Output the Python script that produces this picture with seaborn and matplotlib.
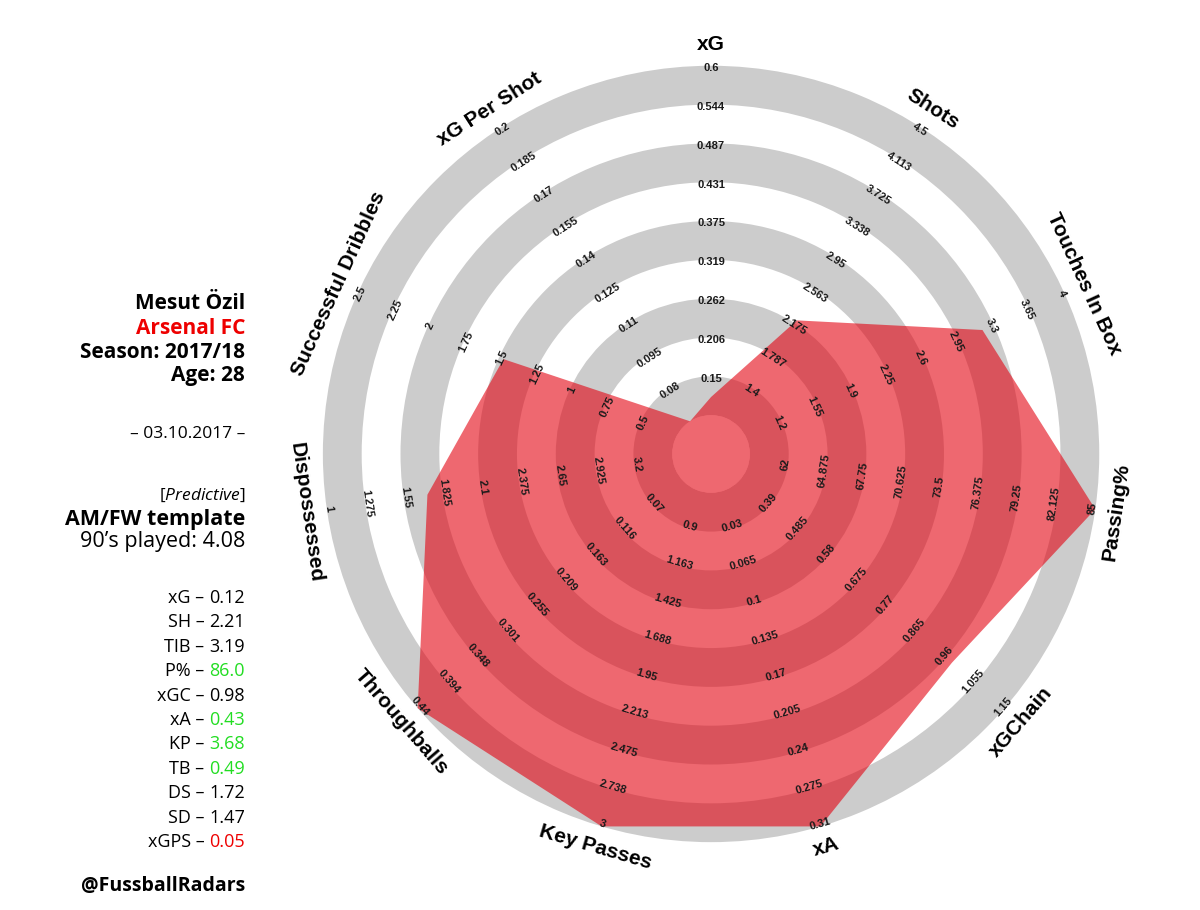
import numpy as np
import matplotlib as mpl; mpl.use("Agg")
import matplotlib.pyplot as plt
import seaborn as sns

# ---- datos del radar ----
AXES = ["xG", "Shots", "Touches In Box", "Passing%", "xGChain", "xA",
        "Key Passes", "Throughballs", "Dispossessed", "Successful Dribbles", "xG Per Shot"]
T_XG = ["0.15", "0.206", "0.262", "0.319", "0.375", "0.431", "0.487", "0.544", "0.6"]
T_SH = ["1.4", "1.787", "2.175", "2.563", "2.95", "3.338", "3.725", "4.113", "4.5"]
T_TIB = ["1.2", "1.55", "1.9", "2.25", "2.6", "2.95", "3.3", "3.65", "4"]
T_PP = ["62", "64.875", "67.75", "70.625", "73.5", "76.375", "79.25", "82.125", "85"]
T_XGC = ["0.39", "0.485", "0.58", "0.675", "0.77", "0.865", "0.96", "1.055", "1.15"]
T_XA = ["0.03", "0.065", "0.1", "0.135", "0.17", "0.205", "0.24", "0.275", "0.31"]
T_KP = ["0.9", "1.163", "1.425", "1.688", "1.95", "2.213", "2.475", "2.738", "3"]
T_TB = ["0.07", "0.116", "0.163", "0.209", "0.255", "0.301", "0.348", "0.394", "0.44"]
T_DS = ["3.2", "2.925", "2.65", "2.375", "2.1", "1.825", "1.55", "1.275", "1"]
T_SD = ["0.5", "0.75", "1", "1.25", "1.5", "1.75", "2", "2.25", "2.5"]
T_XGPS = ["0.08", "0.095", "0.11", "0.125", "0.14", "0.155", "0.17", "0.185", "0.2"]
TICKS = [T_XG, T_SH, T_TIB, T_PP, T_XGC, T_XA, T_KP, T_TB, T_DS, T_SD, T_XGPS]
VALUES = [0.12, 2.21, 3.19, 86.0, 0.98, 0.43, 3.68, 0.49, 1.72, 1.47, 0.05]

# ---- panel izquierdo ----
STAT_LABELS = ["xG", "SH", "TIB", "P%", "xGC", "xA", "KP", "TB", "DS", "SD", "xGPS"]
STAT_DEC = [2, 2, 2, 1, 2, 2, 2, 2, 2, 2, 2]
GREEN, RED_TXT = "#22dd22", "#ee0000"
STAT_COLORS = ["black", "black", "black", GREEN, "black", GREEN, GREEN, GREEN,
               "black", "black", RED_TXT]

GRAY = "#cccccc"
RED, ALPHA = np.array([227, 3, 17]) / 255, 0.6
LEFT_FONT = ["Open Sans", "DejaVu Sans"]

sns.set_theme(style="white")
plt.rcParams["font.family"] = ["Liberation Sans", "DejaVu Sans"]
plt.rcParams.update({"text.color": "black",
                     "mathtext.fontset": "custom", "mathtext.rm": "Open Sans",
                     "mathtext.it": "Open Sans:italic"})

fig = plt.figure(figsize=(12, 9.1), dpi=100)
ax = fig.add_axes([0.2367, 0.0319, 0.7117, 0.9385], projection="polar")
ax.set_theta_zero_location("N"); ax.set_theta_direction(-1)
ax.set_ylim(0, 11); ax.axis("off")

n = len(AXES)
theta = np.arange(n) * 2 * np.pi / n

# anillos grises alternos
for k in range(1, 10, 2):
    ax.bar(0, 1, width=2 * np.pi, bottom=k, align="edge", color=GRAY, linewidth=0, zorder=1)

# poligono: 1a marca en r=2, ultima en r=10, recortado a [1, 10]
r = []
for v, t in zip(VALUES, TICKS):
    lo, hi = float(t[0]), float(t[-1])
    r.append(np.clip(2 + 8 * (v - lo) / (hi - lo), 1, 10))
r = np.array(r)
ax.fill(np.r_[theta, theta[0]], np.r_[r, r[0]], color=RED, alpha=ALPHA, lw=0, zorder=2)
disc = ALPHA * RED + (1 - ALPHA) * np.ones(3)
ax.bar(0, 1, width=2 * np.pi, bottom=0, align="edge", color=disc, linewidth=0, zorder=3)

def rot(deg):
    return 180 - deg if 90 < deg < 270 else -deg

for th, name, ticks in zip(theta, AXES, TICKS):
    deg = np.degrees(th)
    for k, lab in enumerate(ticks, start=2):
        ax.text(th, k - 0.06, lab, rotation=rot(deg), rotation_mode="anchor",
                ha="center", va="center", fontsize=8, fontweight="bold",
                color="#1a1a1a", zorder=5)
    ax.text(th, 10.55, name, rotation=rot(deg), rotation_mode="anchor",
            ha="center", va="center", fontsize=15, fontweight="bold", color="black", zorder=5)

XR = 245 / 1200
def fy(px): return 1 - px / 910

fig.text(XR, fy(304), "Mesut Özil", ha="right", va="center", fontsize=15, fontweight="bold", family=LEFT_FONT)
fig.text(XR, fy(328), "Arsenal FC", ha="right", va="center", fontsize=15, fontweight="bold", color=RED_TXT, family=LEFT_FONT)
fig.text(XR, fy(352), "Season: 2017/18", ha="right", va="center", fontsize=15, fontweight="bold", family=LEFT_FONT)
fig.text(XR, fy(376), "Age: 28", ha="right", va="center", fontsize=15, fontweight="bold", family=LEFT_FONT)
fig.text(XR, fy(434), "– 03.10.2017 –", ha="right", va="center", fontsize=12.5, family=LEFT_FONT)
fig.text(XR, fy(495), r"[$\it{Predictive}$]", ha="right", va="center", fontsize=12.5, family=LEFT_FONT)
fig.text(XR, fy(519), "AM/FW template", ha="right", va="center", fontsize=15.5, fontweight="bold", family=LEFT_FONT)
fig.text(XR, fy(542), "90’s played: 4.08", ha="right", va="center", fontsize=15.5, family=LEFT_FONT)

for i, (lab, v, d, c) in enumerate(zip(STAT_LABELS, VALUES, STAT_DEC, STAT_COLORS)):
    t = fig.text(XR, fy(598 + 24.4 * i), f"{v:.{d}f}", ha="right", va="center",
                 fontsize=13, color=c, family=LEFT_FONT)
    ax.annotate(f"{lab} –", xy=(0, 0.5), xycoords=t, xytext=(-3.5, 0), textcoords="offset points",
                ha="right", va="center", fontsize=13, color="black", family=LEFT_FONT,
                annotation_clip=False)

fig.text(XR, fy(886), "@FussballRadars", ha="right", va="center", fontsize=14, fontweight="bold", family=LEFT_FONT)

fig.savefig("out.png", dpi=100)
